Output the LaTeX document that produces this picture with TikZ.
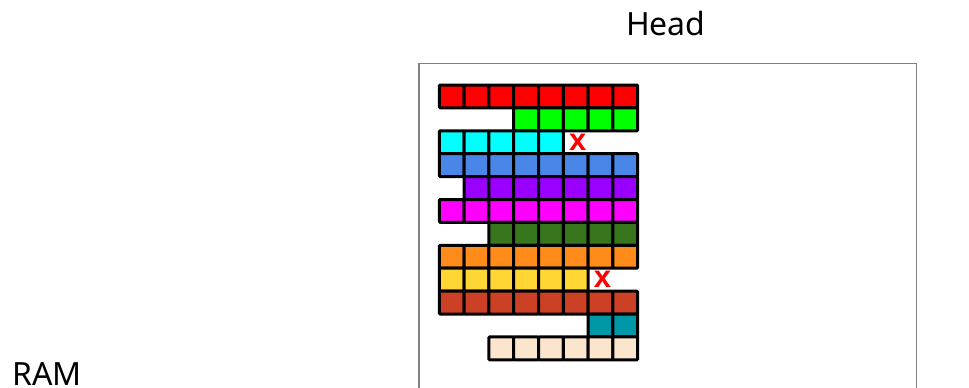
\documentclass[tikz,border=0pt]{standalone}
\usepackage{fontspec}
\setmainfont{Noto Sans}
\newfontfamily\crossfont{Liberation Sans}
\usetikzlibrary{positioning}

\definecolor{redrow}{HTML}{FF0000}
\definecolor{greenrow}{HTML}{00FF00}
\definecolor{cyanrow}{HTML}{00FFFF}
\definecolor{bluerow}{HTML}{4A86E8}
\definecolor{purplerow}{HTML}{9900FF}
\definecolor{magentarow}{HTML}{FF00FF}
\definecolor{forestrow}{HTML}{38761D}
\definecolor{orangerow}{HTML}{FF8C1A}
\definecolor{yellowrow}{HTML}{FFD633}
\definecolor{brickrow}{HTML}{CC4125}
\definecolor{tealrow}{HTML}{0097A7}
\definecolor{beigerow}{HTML}{FCE5CD}
\definecolor{framegray}{HTML}{808080}

\begin{document}
\begin{tikzpicture}[
        x=1pt, y=-1pt,
        cell/.style={draw=black, line width=3pt, rounded corners=1pt, inner sep=0pt,
                     minimum width=24.8pt, minimum height=22.9pt},
        cross/.style={inner sep=0pt, text=red, font=\crossfont\bfseries\fontsize{31}{34}\selectfont},
        lbl/.style={inner sep=0pt, anchor=base west, font=\fontsize{32}{38}\selectfont}
    ]
    \clip (0,0) rectangle (969,388);

    % head area
    \draw[framegray, line width=1.5pt] (419,63.5) rectangle (916.5,420);
    \node[lbl] (head) at (626,35.5) {Head};
    \node[lbl] (ram)  at (12,385)   {RAM};

    % rows of cells: row/first/last/colour
    \foreach \r/\first/\last/\col in {0/0/7/redrow, 1/3/7/greenrow, 2/0/4/cyanrow,
            3/0/7/bluerow, 4/1/7/purplerow, 5/0/7/magentarow, 6/2/7/forestrow,
            7/0/7/orangerow, 8/0/5/yellowrow, 9/0/7/brickrow, 10/6/7/tealrow,
            11/2/7/beigerow}
        \foreach \c in {\first,...,\last}
            \node[cell, fill=\col] (c-\r-\c) at ({439.3+24.8*(\c+0.5)}, {85+22.9*(\r+0.5)}) {};

    % freed slots
    \node[cross, right=4pt of c-2-4] (x1) {x};
    \node[cross, right=4pt of c-8-5] (x2) {x};
\end{tikzpicture}
\end{document}
